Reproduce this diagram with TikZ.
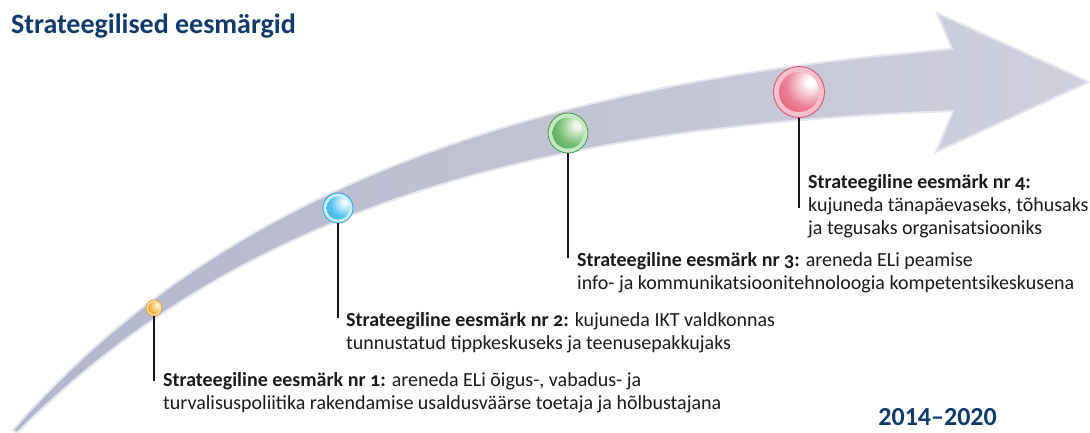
\documentclass[tikz,border=0pt]{standalone}
\usepackage{fontspec}
\setmainfont{Carlito}[Numbers=OldStyle]
\newfontfamily\liningfont{Carlito}
\usetikzlibrary{calc}
\definecolor{titleblue}{HTML}{0E3A6C}
\definecolor{txt}{HTML}{1A1A1A}
\definecolor{arrowL}{HTML}{B2B6CA}
\definecolor{arrowR}{HTML}{D0D0DD}
\definecolor{arrowRim}{HTML}{E6E6EF}
% red
\definecolor{redhi}{HTML}{FFFFFF}\definecolor{redmid}{HTML}{EC8198}\definecolor{redlo}{HTML}{D8355C}
\definecolor{redring}{HTML}{F5BFCB}\definecolor{redline}{HTML}{D9486C}
% green
\definecolor{grnhi}{HTML}{F0F8EC}\definecolor{grnmid}{HTML}{74BD72}\definecolor{grnlo}{HTML}{2F8C3E}
\definecolor{grnring}{HTML}{C6E6C4}\definecolor{grnline}{HTML}{3C9E4A}
% blue
\definecolor{bluhi}{HTML}{EEFAFF}\definecolor{blumid}{HTML}{52C4F0}\definecolor{blulo}{HTML}{1692D6}
\definecolor{bluring}{HTML}{C8EEFB}\definecolor{bluline}{HTML}{1EA4E0}
% orange
\definecolor{orahi}{HTML}{FFF3D6}\definecolor{oramid}{HTML}{F9B850}\definecolor{oralo}{HTML}{EE9322}
\definecolor{oraring}{HTML}{FDDFA8}\definecolor{oraline}{HTML}{F0A33A}
\pgfdeclareradialshading{ballred}{\pgfpoint{16bp}{14bp}}{color(0bp)=(redhi); color(5bp)=(redhi); color(28bp)=(redmid); color(62bp)=(redlo); color(100bp)=(redlo)}
\pgfdeclareradialshading{ballgrn}{\pgfpoint{16bp}{14bp}}{color(0bp)=(grnhi); color(5bp)=(grnhi); color(28bp)=(grnmid); color(62bp)=(grnlo); color(100bp)=(grnlo)}
\pgfdeclareradialshading{ballblu}{\pgfpoint{16bp}{14bp}}{color(0bp)=(bluhi); color(5bp)=(bluhi); color(28bp)=(blumid); color(62bp)=(blulo); color(100bp)=(blulo)}
\pgfdeclareradialshading{ballora}{\pgfpoint{16bp}{14bp}}{color(0bp)=(orahi); color(5bp)=(orahi); color(28bp)=(oramid); color(62bp)=(oralo); color(100bp)=(oralo)}
\tikzset{
  ringnode/.style={circle, inner sep=0pt, line width=0.8pt},
  ballnode/.style={circle, inner sep=0pt, draw=none},
  stem/.style={draw=txt, line width=1.3pt},
  goaltext/.style={anchor=base west, inner sep=0pt, align=left, text=txt,
    font=\fontsize{20}{23}\selectfont},
}
\begin{document}
\begin{tikzpicture}[x=1pt,y=-1pt]
\useasboundingbox (0,0) rectangle (1090,432);
% arrow
\shade[left color=arrowL, right color=arrowR, draw=arrowRim, line width=2pt, line join=miter]
  (13,430) .. controls (229.8,180.5) and (548.7,82.2) .. (952,49)
  -- (937,13) -- (1089,82) -- (936,152) -- (953,111)
  .. controls (555.3,125.8) and (250.2,199.5) .. (17,433) -- cycle;
% title
\node[anchor=base west, inner sep=0pt, text=titleblue, font=\fontsize{28}{32}\selectfont\bfseries] (title) at (11,33) {Strateegilised eesmärgid};
\node[anchor=base east, inner sep=0pt, text=titleblue, font=\liningfont\fontsize{26}{30}\selectfont\bfseries] (years) at (997,425) {2014–2020};
% spheres
\node[ringnode, minimum size=16pt, fill=oraring, draw=oraline] (r1) at (154,308) {};
\node[ballnode, minimum size=12pt, shading=ballora] (b1) at (r1.center) {};
\node[ringnode, minimum size=30pt, fill=bluring, draw=bluline] (r2) at (338,208) {};
\node[ballnode, minimum size=23pt, shading=ballblu] (b2) at (r2.center) {};
\node[ringnode, minimum size=40pt, fill=grnring, draw=grnline] (r3) at (568,133) {};
\node[ballnode, minimum size=31pt, shading=ballgrn] (b3) at (r3.center) {};
\node[ringnode, minimum size=51pt, fill=redring, draw=redline] (r4) at (799,92) {};
\node[ballnode, minimum size=40pt, shading=ballred] (b4) at (r4.center) {};
% texts (anchored at the baseline of their last line)
\node[goaltext] (t1) at (163,409) {\textbf{Strateegiline eesmärk nr 1:} areneda ELi õigus-, vabadus- ja\\turvalisuspoliitika rakendamise usaldusväärse toetaja ja hõlbustajana};
\node[goaltext] (t2) at (346,349) {\textbf{Strateegiline eesmärk nr 2:} kujuneda IKT valdkonnas\\tunnustatud tippkeskuseks ja teenusepakkujaks};
\node[goaltext] (t3) at (577,289) {\textbf{Strateegiline eesmärk nr 3:} areneda ELi peamise\\info- ja kommunikatsioonitehnoloogia kompetentsikeskusena};
\node[goaltext] (t4) at (808,234) {\textbf{Strateegiline eesmärk nr 4:}\\kujuneda tänapäevaseks, tõhusaks\\ja tegusaks organisatsiooniks};
% stems
\coordinate (e1) at (154,381);
\coordinate (e2) at (338,318);
\coordinate (e3) at (568,258);
\coordinate (e4) at (799,208);
\draw[stem] (r1.south) -- (e1);
\draw[stem] (r2.south) -- (e2);
\draw[stem] (r3.south) -- (e3);
\draw[stem] (r4.south) -- (e4);
\end{tikzpicture}
\end{document}
